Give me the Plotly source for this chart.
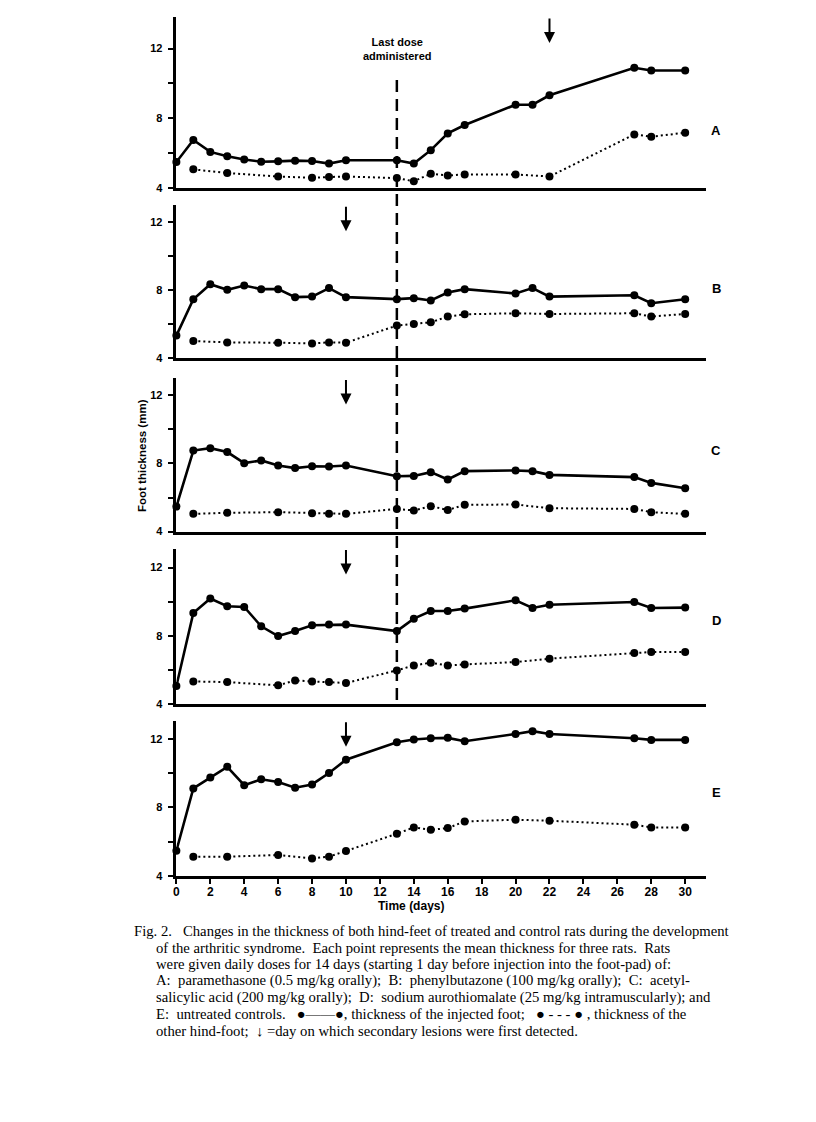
import plotly.graph_objects as go

# page has an 8px body margin; keep the figure a bit smaller than the window
OFF = 8
W, H = 796, 1090
SY = 1.0065  # small vertical calibration of page positions

# ---------------- data ----------------
panels = ["A", "B", "C", "D", "E"]

days_inj = [0, 1, 2, 3, 4, 5, 6, 7, 8, 9, 10, 13, 14, 15, 16, 17, 20, 21, 22, 27, 28, 30]
days_other = [1, 3, 6, 8, 9, 10, 13, 14, 15, 16, 17, 20, 22, 27, 28, 30]
days_other_D = [1, 3, 6, 7, 8, 9, 10, 13, 14, 15, 16, 17, 20, 22, 27, 28, 30]

inj_A = [5.5, 6.76, 6.08, 5.83, 5.64, 5.52, 5.54, 5.58, 5.56, 5.41, 5.6,
         5.6, 5.41, 6.18, 7.14, 7.62, 8.78, 8.78, 9.32, 10.9, 10.74, 10.74]
oth_A = [5.08, 4.87, 4.67, 4.6, 4.64, 4.67, 4.58, 4.4, 4.83, 4.73, 4.79,
         4.79, 4.67, 7.08, 6.95, 7.18]

inj_B = [5.34, 7.48, 8.36, 8.03, 8.28, 8.07, 8.07, 7.6, 7.63, 8.13, 7.6,
         7.48, 7.54, 7.4, 7.87, 8.07, 7.81, 8.13, 7.63, 7.71, 7.24, 7.48]
oth_B = [5.02, 4.94, 4.92, 4.88, 4.94, 4.92, 5.93, 6.02, 6.12, 6.46, 6.59,
         6.65, 6.61, 6.65, 6.46, 6.61]

inj_C = [5.47, 8.76, 8.9, 8.67, 8.02, 8.18, 7.88, 7.73, 7.84, 7.82, 7.88,
         7.25, 7.27, 7.49, 7.06, 7.55, 7.59, 7.55, 7.33, 7.2, 6.86, 6.55]
oth_C = [5.04, 5.1, 5.14, 5.08, 5.04, 5.04, 5.33, 5.24, 5.49, 5.27, 5.57,
         5.59, 5.37, 5.33, 5.14, 5.04]

inj_D = [5.04, 9.33, 10.18, 9.73, 9.69, 8.55, 7.98, 8.27, 8.61, 8.65, 8.65,
         8.27, 9.0, 9.45, 9.45, 9.59, 10.08, 9.63, 9.82, 9.98, 9.63, 9.65]
oth_D = [5.31, 5.27, 5.08, 5.37, 5.31, 5.27, 5.22, 5.96, 6.25, 6.41, 6.25,
         6.31, 6.45, 6.65, 6.98, 7.04, 7.04]

inj_E = [5.47, 9.11, 9.74, 10.37, 9.3, 9.64, 9.48, 9.15, 9.34, 10.01, 10.78,
         11.8, 11.96, 12.04, 12.06, 11.86, 12.29, 12.45, 12.29, 12.04, 11.94, 11.94]
oth_E = [5.12, 5.12, 5.22, 5.02, 5.12, 5.45, 6.46, 6.83, 6.69, 6.79, 7.18,
         7.28, 7.22, 6.99, 6.83, 6.83]

lesion_day = {"A": 22, "B": 10, "C": 10, "D": 10, "E": 10}
last_dose_day = 13

y_ticks = [4, 6, 8, 10, 12]
y_ticklabels = ["4", "", "8", "", "12"]
x_ticks = list(range(0, 31, 2))

caption_lines = [
    "Fig. 2.   Changes in the thickness of both hind-feet of treated and control rats during the development",
    "of the arthritic syndrome.  Each point represents the mean thickness for three rats.  Rats",
    "were given daily doses for 14 days (starting 1 day before injection into the foot-pad) of:",
    "A:  paramethasone (0.5 mg/kg orally);  B:  phenylbutazone (100 mg/kg orally);  C:  acetyl-",
    "salicylic acid (200 mg/kg orally);  D:  sodium aurothiomalate (25 mg/kg intramuscularly); and",
    "E:  untreated controls.   \u25cf\u2014\u2014\u25cf, thickness of the injected foot;   \u25cf - - - \u25cf , thickness of the",
    "other hind-foot;  \u2193 =day on which secondary lesions were first detected.",
]

series = {
    "A": (days_inj, inj_A, days_other, oth_A),
    "B": (days_inj, inj_B, days_other, oth_B),
    "C": (days_inj, inj_C, days_other, oth_C),
    "D": (days_inj, inj_D, days_other_D, oth_D),
    "E": (days_inj, inj_E, days_other, oth_E),
}

# ---------------- layout geometry (page pixels) ----------------
# (bottom_px, top_px, ymax)
geom = {
    "A": (188, 17, 13.8),
    "B": (358, 205, 13.0),
    "C": (531, 378, 13.0),
    "D": (703, 548, 13.12),
    "E": (875, 720, 13.06),
}
letter_y = {"A": 130, "B": 288, "C": 450, "D": 620, "E": 792}
x_left, x_right = 174, 706
x_max = 31.25

def fx(px):
    return (px - OFF) / W

def fy(py):
    return 1 - (py * SY - OFF) / H

FONT_SANS = "Liberation Sans"
FONT_SERIF = "Liberation Serif"

fig = go.Figure()
layout = dict(
    width=W, height=H,
    margin=dict(l=0, r=0, t=0, b=0),
    paper_bgcolor="white", plot_bgcolor="white",
    showlegend=False,
)

annotations = []
shapes = []

for i, p in enumerate(panels):
    n = "" if i == 0 else str(i + 1)
    xa, ya = "x" + n, "y" + n
    dx, yv, dox, dov = series[p]
    fig.add_trace(go.Scatter(
        x=dx, y=yv, xaxis=xa, yaxis=ya, mode="lines+markers",
        line=dict(color="black", width=2.6),
        marker=dict(color="black", size=8),
        cliponaxis=False,
    ))
    fig.add_trace(go.Scatter(
        x=dox, y=dov, xaxis=xa, yaxis=ya, mode="lines+markers",
        line=dict(color="black", width=2, dash="2px,3px"),
        marker=dict(color="black", size=8),
        cliponaxis=False,
    ))
    bot, top, ymax = geom[p]
    is_last = p == "E"
    layout["xaxis" + n] = dict(
        domain=[fx(x_left), fx(x_right)], range=[0, x_max], anchor=ya,
        showgrid=False, zeroline=False, showline=True, linecolor="black", linewidth=2.5,
        ticks="outside" if is_last else "", tickvals=x_ticks if is_last else [],
        ticklen=5, tickwidth=2, tickcolor="black",
        showticklabels=is_last, ticklabelstandoff=-2,
        tickfont=dict(family=FONT_SANS, size=12, color="black", weight="bold"),
    )
    layout["yaxis" + n] = dict(
        domain=[fy(bot), fy(top)], range=[4, ymax], anchor=xa,
        showgrid=False, zeroline=False, showline=True, linecolor="black", linewidth=2.5,
        ticks="outside", tickvals=y_ticks, ticktext=y_ticklabels,
        ticklen=6, tickwidth=2, tickcolor="black", ticklabelstandoff=3,
        tickfont=dict(family=FONT_SANS, size=11, color="black", weight="bold"),
    )
    # panel letter
    annotations.append(dict(
        x=fx(716), y=fy(letter_y[p]), xref="paper", yref="paper",
        xanchor="center", yanchor="middle",
        text=p, showarrow=False,
        font=dict(family=FONT_SANS, size=13, color="black", weight="bold"),
    ))
    # lesion arrow
    annotations.append(dict(
        x=lesion_day[p], y=fy(top + 26), xref=xa, yref="paper",
        ax=0, ay=-26, axref="pixel", ayref="pixel",
        text="", showarrow=True, arrowhead=2, arrowsize=1.1, arrowwidth=2,
        arrowcolor="black",
    ))

# "last dose" dashed line, from panel A through panel D
shapes.append(dict(
    type="line", xref="x", yref="paper",
    x0=last_dose_day, x1=last_dose_day, y0=fy(80), y1=fy(703),
    line=dict(color="black", width=2.5, dash="12px,7px"),
))
annotations.append(dict(
    x=last_dose_day, y=fy(49), xref="x", yref="paper",
    xanchor="center", yanchor="middle",
    text="Last dose<br>administered", showarrow=False,
    font=dict(family=FONT_SANS, size=11, color="black", weight="bold"),
    align="center",
))

# axis titles
annotations.append(dict(
    x=fx(140), y=fy(455), xref="paper", yref="paper",
    xanchor="center", yanchor="middle",
    text="Foot thickness (mm)", textangle=-90, showarrow=False,
    font=dict(family=FONT_SANS, size=11.5, color="black", weight="bold"),
))
annotations.append(dict(
    x=fx(410), y=fy(905), xref="paper", yref="paper",
    xanchor="center", yanchor="middle",
    text="Time (days)", showarrow=False,
    font=dict(family=FONT_SANS, size=12, color="black", weight="bold"),
))

# caption
for k, line in enumerate(caption_lines):
    annotations.append(dict(
        x=fx(129 if k == 0 else 152), y=fy(930 + k * 16.6), xref="paper", yref="paper",
        text=line, showarrow=False, xanchor="left", yanchor="middle",
        font=dict(family=FONT_SERIF, size=14.7, color="black"),
    ))

layout["annotations"] = annotations
layout["shapes"] = shapes
fig.update_layout(**layout)
fig.write_html("out.html")
